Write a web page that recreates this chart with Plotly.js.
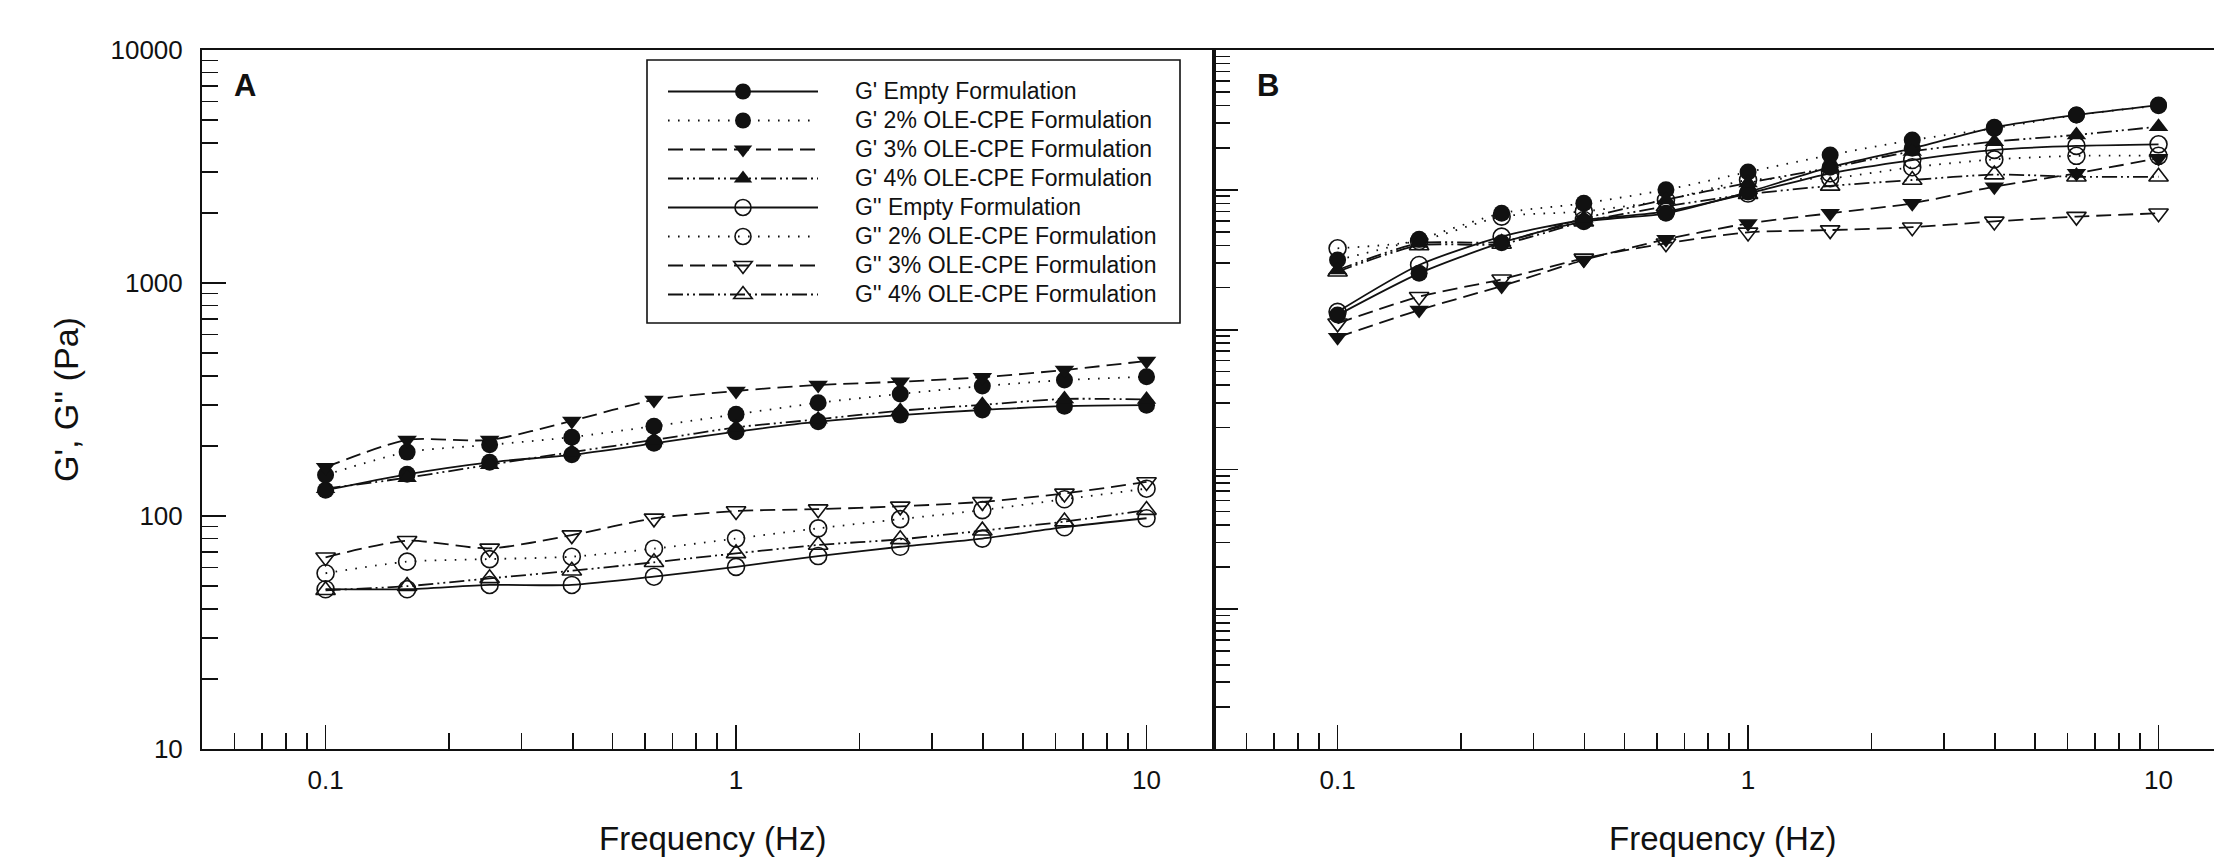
<!DOCTYPE html>
<html>
<head>
<meta charset="utf-8">
<script src="https://cdn.plot.ly/plotly-3.0.1.min.js"></script>
<style>
  html, body { margin: 0; padding: 0; background: #fff; }
  #chart { width: 2214px; height: 862px; }
</style>
</head>
<body>
<div id="chart"></div>
<script>
// ---------- data ----------
const freq = [0.1, 0.158, 0.251, 0.398, 0.631, 1, 1.585, 2.512, 3.981, 6.31, 10];

const seriesNames = [
  "G' Empty Formulation",
  "G' 2% OLE-CPE Formulation",
  "G' 3% OLE-CPE Formulation",
  "G' 4% OLE-CPE Formulation",
  "G'' Empty Formulation",
  "G'' 2% OLE-CPE Formulation",
  "G'' 3% OLE-CPE Formulation",
  "G'' 4% OLE-CPE Formulation"
];

// Panel A (Pa)
const gpEmptyA  = [129, 151, 170, 183, 205, 230, 254, 271, 285, 296, 299];
const gp2A      = [150, 188, 202, 218, 243, 273, 306, 334, 361, 383, 396];
const gp3A      = [162, 212, 212, 256, 315, 344, 365, 377, 394, 423, 463];
const gp4A      = [131, 146, 166, 188, 212, 240, 260, 283, 300, 318, 316];
const gppEmptyA = [48.5, 48.5, 50.6, 50.6, 54.9, 60.5, 67.3, 73.8, 80, 89.5, 97.8];
const gpp2A     = [56.8, 63.7, 65.3, 66.9, 72.4, 80, 88.5, 97, 106, 118, 131];
const gpp3A     = [66.5, 78.3, 72.6, 82.8, 97.7, 105, 107, 110, 115, 125, 140];
const gpp4A     = [48, 50, 54, 58.2, 63.3, 69.1, 75.1, 79.4, 86.5, 94.6, 106];

// Panel B (unlabelled log axis, 5 decades)
const gpEmptyB  = [1270, 2525, 4188, 5920, 6790, 9640, 14500, 19800, 28000, 34300, 40400];
const gp2B      = [3148, 4424, 6792, 8000, 10000, 13400, 17740, 22700, 27500, 34300, 40000];
const gp3B      = [881, 1380, 2050, 3148, 4420, 5750, 6790, 8000, 10530, 13130, 16800];
const gp4B      = [2669, 4143, 4250, 6250, 8500, 11200, 14380, 18800, 22100, 24700, 28300];
const gppEmptyB = [1340, 2897, 4624, 6080, 6970, 9400, 13130, 16330, 19300, 20600, 21150];
const gpp2B     = [3814, 4300, 6427, 7000, 8450, 11750, 12090, 14500, 16500, 17500, 17500];
const gpp3B     = [1109, 1719, 2290, 3230, 4143, 4960, 5150, 5400, 5940, 6430, 6790];
const gpp4B     = [2595, 4000, 4100, 5920, 7600, 9300, 10660, 11750, 12850, 12400, 12400];

const xTickVals = [0.1, 1, 10];
const xTickText = ['0.1', '1', '10'];
const yTickVals = [10, 100, 1000, 10000];
const yTickText = ['10', '100', '1000', '10000'];

// ---------- styles ----------
const W = 2214, H = 862;
const FONT = 'Liberation Sans, Arial, Helvetica, sans-serif';
const INK = '#111';
const dashes = {
  solid: 'solid',
  dot: '1.6px,8.4px',
  dash: '15px,7px',
  dashdotdot: '15px,4px,2px,4px,2px,4px'
};
const styles = [
  {dash: dashes.solid, symbol: 'circle'},
  {dash: dashes.dot, symbol: 'circle'},
  {dash: dashes.dash, symbol: 'triangle-down'},
  {dash: dashes.dashdotdot, symbol: 'triangle-up'},
  {dash: dashes.solid, symbol: 'circle-open'},
  {dash: dashes.dot, symbol: 'circle-open'},
  {dash: dashes.dash, symbol: 'triangle-down-open'},
  {dash: dashes.dashdotdot, symbol: 'triangle-up-open'}
];
const dataA = [gpEmptyA, gp2A, gp3A, gp4A, gppEmptyA, gpp2A, gpp3A, gpp4A];
const dataB = [gpEmptyB, gp2B, gp3B, gp4B, gppEmptyB, gpp2B, gpp3B, gpp4B];

const GAP = '\u00A0\u00A0\u00A0\u00A0\u00A0';

function mk(i, ys, xa, ya, showleg) {
  const s = styles[i];
  const open = s.symbol.indexOf('open') >= 0;
  return {
    type: 'scatter', mode: 'lines+markers',
    x: freq, y: ys, xaxis: xa, yaxis: ya,
    name: '<span style="font-size:23px">' + GAP + seriesNames[i] + '</span>',
    showlegend: showleg,
    line: {color: INK, width: 1.8, dash: s.dash, shape: 'spline', smoothing: 0.7},
    marker: {symbol: s.symbol, size: 17, color: INK,
             line: {color: INK, width: open ? 1.6 : 0}}
  };
}
// draw open-marker series first so filled markers sit on top, keep legend order via rank
const order = [4, 5, 6, 7, 0, 1, 2, 3];
const traces = [];
order.forEach(i => traces.push(Object.assign(mk(i, dataA[i], 'x', 'y', true), {legendrank: i + 1})));
order.forEach(i => traces.push(mk(i, dataB[i], 'x2', 'y2', false)));

const px = v => v / W;
const py = v => 1 - v / H;

const xRangeA = [Math.log10(0.05), Math.log10(14.6)];
const xRangeB = [Math.log10(0.05), Math.log10(13.65)];

const commonAxis = {
  type: 'log', showgrid: false, zeroline: false,
  showline: true, linecolor: INK, linewidth: 2,
  ticks: 'inside', ticklen: 24, tickwidth: 1.8, tickcolor: INK,
  tickfont: {family: FONT, size: 26, color: INK},
  minor: {ticks: 'inside', ticklen: 16, tickwidth: 1.6, tickcolor: INK, dtick: 'D1', showgrid: false}
};

const layout = {
  width: W, height: H,
  margin: {l: 0, r: 0, t: 0, b: 0, pad: 0},
  paper_bgcolor: '#fff', plot_bgcolor: '#fff',
  showlegend: true,
  font: {family: FONT, color: INK},
  xaxis: Object.assign({}, commonAxis, {
    domain: [px(202), px(1214)], range: xRangeA, anchor: 'y',
    mirror: true, tickmode: 'array', tickvals: xTickVals, ticktext: xTickText,
    ticklabelstandoff: 7
  }),
  yaxis: Object.assign({}, commonAxis, {
    domain: [py(749), py(50)], range: [1, 4], anchor: 'x',
    mirror: true, tickmode: 'array', tickvals: yTickVals, ticktext: yTickText,
    ticklabelstandoff: 12
  }),
  xaxis2: Object.assign({}, commonAxis, {
    domain: [px(1214), 1], range: xRangeB, anchor: 'y2',
    mirror: true, tickmode: 'array', tickvals: xTickVals, ticktext: xTickText,
    ticklabelstandoff: 7
  }),
  yaxis2: Object.assign({}, commonAxis, {
    domain: [py(749), py(50)], range: [0, 5], anchor: 'x2',
    mirror: false, showticklabels: false, tickmode: 'linear', tick0: 0, dtick: 1
  }),
  legend: {
    x: px(663), y: py(72), xanchor: 'left', yanchor: 'top',
    bgcolor: 'rgba(0,0,0,0)', borderwidth: 0,
    font: {family: FONT, size: 20, color: INK},
    itemwidth: 150, traceorder: 'normal', itemclick: false
  },
  shapes: [{
    type: 'rect', xref: 'paper', yref: 'paper',
    x0: px(647), x1: px(1180), y0: py(323), y1: py(60),
    line: {color: INK, width: 1.6}, fillcolor: 'rgba(0,0,0,0)', layer: 'above'
  }],
  annotations: [
    {text: "G', G'' (Pa)", xref: 'paper', yref: 'paper', x: px(66), y: py(400),
     xanchor: 'center', yanchor: 'middle', textangle: -90, showarrow: false,
     font: {family: FONT, size: 34, color: INK}},
    {text: 'Frequency (Hz)', xref: 'paper', yref: 'paper', x: px(712), y: py(838),
     xanchor: 'center', yanchor: 'middle', showarrow: false,
     font: {family: FONT, size: 33, color: INK}},
    {text: 'Frequency (Hz)', xref: 'paper', yref: 'paper', x: px(1722), y: py(838),
     xanchor: 'center', yanchor: 'middle', showarrow: false,
     font: {family: FONT, size: 33, color: INK}},
    {text: '<b>A</b>', xref: 'paper', yref: 'paper', x: px(232), y: py(86),
     xanchor: 'left', yanchor: 'middle', showarrow: false,
     font: {family: FONT, size: 31, color: INK}},
    {text: '<b>B</b>', xref: 'paper', yref: 'paper', x: px(1255), y: py(86),
     xanchor: 'left', yanchor: 'middle', showarrow: false,
     font: {family: FONT, size: 31, color: INK}}
  ]
};

Plotly.newPlot('chart', traces, layout, {staticPlot: true, displayModeBar: false});
</script>
</body>
</html>
